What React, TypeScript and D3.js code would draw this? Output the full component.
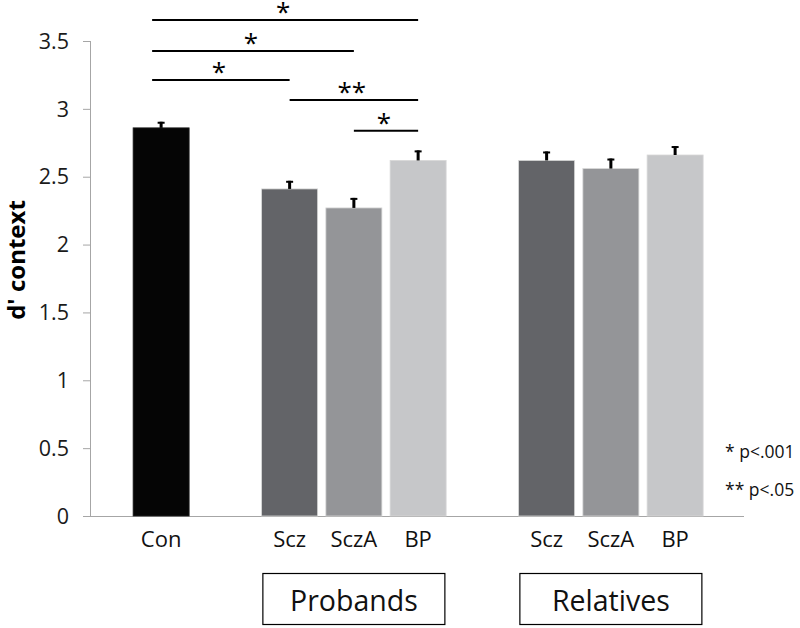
import React from "react";
import * as d3 from "d3";

const slots = ["Con", "gap1", "P-Scz", "P-SczA", "P-BP", "gap2", "R-Scz", "R-SczA", "R-BP"];
const barSlots = ["Con", "P-Scz", "P-SczA", "P-BP", "R-Scz", "R-SczA", "R-BP"];
const barLabels = ["Con", "Scz", "SczA", "BP", "Scz", "SczA", "BP"];
const barValues = [2.86, 2.41, 2.27, 2.62, 2.62, 2.56, 2.66];
const barErrors = [0.045, 0.06, 0.074, 0.074, 0.066, 0.074, 0.066];
const barColors = ["#050505", "#636468", "#949598", "#c6c7c9", "#636468", "#949598", "#c6c7c9"];

const groupNames = ["Probands", "Relatives"];
const groupCenters = ["P-SczA", "R-SczA"];

const yTicks = [0, 0.5, 1, 1.5, 2, 2.5, 3, 3.5];

const sigFrom = ["Con", "Con", "Con", "P-Scz", "P-SczA"];
const sigTo = ["P-BP", "P-SczA", "P-Scz", "P-BP", "P-BP"];
const sigLevel = [3.655, 3.427, 3.213, 3.066, 2.838];
const sigLabel = ["*", "*", "*", "**", "*"];

const notes = ["* p<.001", "** p<.05"];

const W = 800;
const H = 628;

export default function App() {
  const y = d3.scaleLinear().domain([0, 3.5]).range([516, 41]);
  const x = d3
    .scaleBand<string>()
    .domain(slots)
    .range([129, 707.25])
    .paddingInner(0.128)
    .paddingOuter(0.064);
  const bw = x.bandwidth();
  const cx = (k: string) => (x(k) as number) + bw / 2;
  const font = "'Open Sans', sans-serif";
  const axisColor = "#a6a6a6";

  return (
    <svg
      width={W}
      height={H}
      style={{ position: "absolute", left: 0, top: 0, background: "#fff" }}
      fontFamily={font}
    >
      {/* y axis */}
      <line x1={90.5} x2={90.5} y1={y(3.5)} y2={y(0)} stroke={axisColor} strokeWidth={1} />
      {yTicks.map((t) => (
        <g key={t}>
          <line x1={83} x2={90.5} y1={y(t) + 0.5} y2={y(t) + 0.5} stroke={axisColor} strokeWidth={1} />
          <text x={69} y={y(t)} dy="0.36em" textAnchor="end" fontSize={21.5} fill="#1a1a1a">
            {t}
          </text>
        </g>
      ))}
      {/* x axis */}
      <line x1={90} x2={744} y1={y(0) + 0.5} y2={y(0) + 0.5} stroke={axisColor} strokeWidth={1} />

      {/* y title */}
      <text
        transform={`translate(25, 260) rotate(-90)`}
        textAnchor="middle"
        fontSize={24}
        fontWeight="bold"
        fill="#000"
      >
        d' context
      </text>

      {/* bars */}
      {barSlots.map((k, i) => (
        <g key={k}>
          <rect
            x={x(k)}
            y={y(barValues[i])}
            width={bw}
            height={y(0) - y(barValues[i])}
            fill={barColors[i]}
            stroke={i === 0 ? "#222" : "#d8d8d8"}
            strokeWidth={0.8}
          />
          <line
            x1={cx(k)}
            x2={cx(k)}
            y1={y(barValues[i])}
            y2={y(barValues[i] + barErrors[i])}
            stroke="#000"
            strokeWidth={3}
          />
          <line
            x1={cx(k) - 3.5}
            x2={cx(k) + 3.5}
            y1={y(barValues[i] + barErrors[i]) + 1}
            y2={y(barValues[i] + barErrors[i]) + 1}
            stroke="#000"
            strokeWidth={2}
          />
          <text x={cx(k)} y={547} textAnchor="middle" fontSize={22} fill="#111">
            {barLabels[i]}
          </text>
        </g>
      ))}

      {/* significance lines */}
      {sigFrom.map((f, i) => {
        const x1 = cx(f) - (f === "Con" ? 9 : 0);
        const x2 = cx(sigTo[i]);
        const yy = y(sigLevel[i]);
        return (
          <g key={i}>
            <line x1={x1} x2={x2} y1={yy} y2={yy} stroke="#000" strokeWidth={2} />
            <text x={(x1 + x2) / 2 - 2} y={yy + 1.5} textAnchor="middle" fontSize={26} fill="#000">
              {sigLabel[i]}
            </text>
          </g>
        );
      })}

      {/* group boxes */}
      {groupNames.map((g, i) => {
        const c = cx(groupCenters[i]);
        const bwid = 182;
        return (
          <g key={g}>
            <rect x={c - bwid / 2} y={573.5} width={bwid} height={51} fill="#fff" stroke="#000" strokeWidth={1.2} />
            <text x={c} y={611} textAnchor="middle" fontSize={28.5} fill="#111">
              {g}
            </text>
          </g>
        );
      })}

      {/* notes */}
      {notes.map((n, i) => (
        <text key={n} x={725} y={458 + i * 38} fontSize={17.5} fill="#111">
          {n}
        </text>
      ))}
    </svg>
  );
}
